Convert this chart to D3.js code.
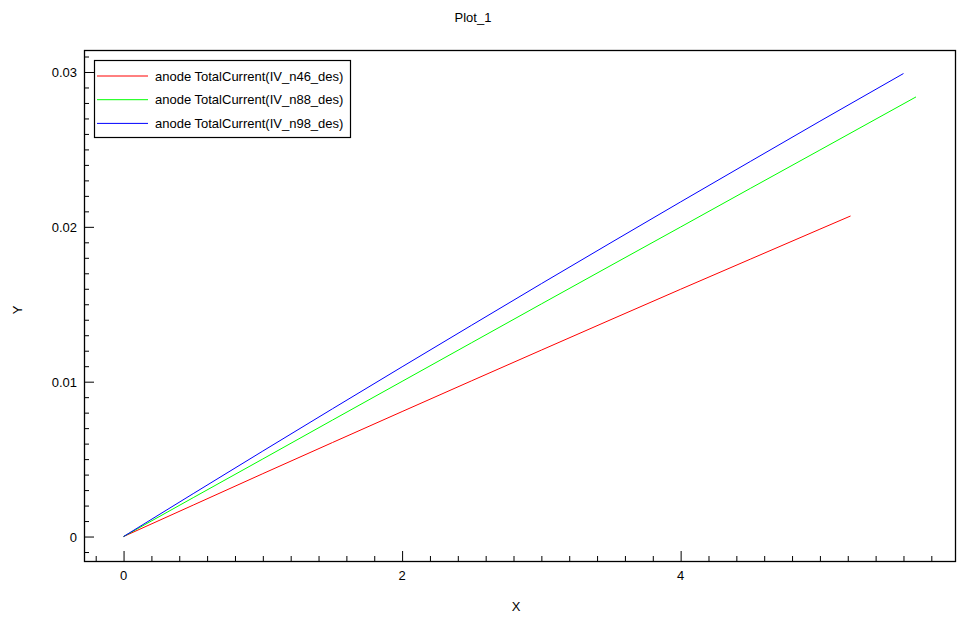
<!DOCTYPE html>
<html>
<head>
<meta charset="utf-8">
<script src="https://cdn.jsdelivr.net/npm/d3@7"></script>
<style>
  html, body { margin: 0; padding: 0; background: #fff; }
  svg { display: block; font-family: "Liberation Sans", Arial, sans-serif; }
</style>
</head>
<body>
<svg id="chart" width="970" height="628"></svg>
<script>
const seriesNames = ["anode TotalCurrent(IV_n46_des)", "anode TotalCurrent(IV_n88_des)", "anode TotalCurrent(IV_n98_des)"];
const seriesColors = ["#ff0000", "#00ff00", "#0000ff"];

const xN46 = [0, 0.5, 1, 1.5, 2, 2.5, 3, 3.5, 4, 4.5, 5, 5.22];
const yN46 = [0, 0.00203, 0.00406, 0.00607, 0.00807, 0.01006, 0.01204, 0.01401, 0.01597, 0.01791, 0.01985, 0.0207];

const xN88 = [0, 0.5, 1, 1.5, 2, 2.5, 3, 3.5, 4, 4.5, 5, 5.69];
const yN88 = [0, 0.00251, 0.00501, 0.00752, 0.01002, 0.01252, 0.01502, 0.01751, 0.01999, 0.02248, 0.02496, 0.02839];

const xN98 = [0, 0.5, 1, 1.5, 2, 2.5, 3, 3.5, 4, 4.5, 5, 5.6];
const yN98 = [0, 0.00277, 0.00552, 0.00825, 0.01096, 0.01365, 0.01633, 0.01898, 0.02161, 0.02422, 0.02682, 0.0299];

const xMajorTicks = [0, 2, 4];
const yMajorTicks = [0, 0.01, 0.02, 0.03];
const xTickLabels = ["0", "2", "4"];
const yTickLabels = ["0", "0.01", "0.02", "0.03"];

const title = "Plot_1";
const xLabel = "X";
const yLabel = "Y";

const series = [
  { name: seriesNames[0], color: seriesColors[0], xs: xN46, ys: yN46 },
  { name: seriesNames[1], color: seriesColors[1], xs: xN88, ys: yN88 },
  { name: seriesNames[2], color: seriesColors[2], xs: xN98, ys: yN98 }
];

const svg = d3.select("#chart");
const L = 84, R = 955, T = 50, B = 561;

const x = d3.scaleLinear().domain([-0.284, 5.97]).range([L, R]);
const y = d3.scaleLinear().domain([-0.00158, 0.03142]).range([B, T]);

// minor ticks
const xMinor = d3.range(-0.2, 5.97, 0.2).filter(v => xMajorTicks.every(m => Math.abs(m - v) > 1e-6));
const yMinor = d3.range(-0.001, 0.0314, 0.001).filter(v => yMajorTicks.every(m => Math.abs(m - v) > 1e-9));

// x axis (ticks inward)
const xAxis = d3.axisTop(x).tickValues(xMajorTicks).tickSize(10).tickFormat("");
svg.append("g").attr("transform", `translate(0,${B})`).call(xAxis)
  .call(g => g.select(".domain").remove())
  .selectAll("line").attr("stroke", "#000");
const xAxisMinor = d3.axisTop(x).tickValues(xMinor).tickSize(5).tickFormat("");
svg.append("g").attr("transform", `translate(0,${B})`).call(xAxisMinor)
  .call(g => g.select(".domain").remove())
  .selectAll("line").attr("stroke", "#000");

const yAxis = d3.axisRight(y).tickValues(yMajorTicks).tickSize(10).tickFormat("");
svg.append("g").attr("transform", `translate(${L},0)`).call(yAxis)
  .call(g => g.select(".domain").remove())
  .selectAll("line").attr("stroke", "#000");
const yAxisMinor = d3.axisRight(y).tickValues(yMinor).tickSize(5).tickFormat("");
svg.append("g").attr("transform", `translate(${L},0)`).call(yAxisMinor)
  .call(g => g.select(".domain").remove())
  .selectAll("line").attr("stroke", "#000");

// tick labels
svg.append("g").selectAll("text").data(xMajorTicks).join("text")
  .attr("x", d => x(d)).attr("y", B + 19)
  .attr("text-anchor", "middle").attr("font-size", 13).attr("fill", "#000")
  .text((d, i) => xTickLabels[i]);
svg.append("g").selectAll("text").data(yMajorTicks).join("text")
  .attr("x", L - 7).attr("y", d => y(d) + 5)
  .attr("text-anchor", "end").attr("font-size", 13).attr("fill", "#000")
  .text((d, i) => yTickLabels[i]);

// frame
svg.append("rect").attr("x", L + 0.5).attr("y", T + 0.5)
  .attr("width", R - L).attr("height", B - T)
  .attr("fill", "none").attr("stroke", "#000").attr("stroke-width", 1.3);

// lines
const clip = svg.append("defs").append("clipPath").attr("id", "clip")
  .append("rect").attr("x", L).attr("y", T).attr("width", R - L).attr("height", B - T);
const line = d3.line().x(d => x(d[0])).y(d => y(d[1]));
svg.append("g").attr("clip-path", "url(#clip)").selectAll("path").data(series).join("path")
  .attr("d", s => line(s.xs.map((v, i) => [v, s.ys[i]])))
  .attr("fill", "none").attr("stroke", s => s.color).attr("stroke-width", 1);

// legend
const lg = svg.append("g");
lg.append("rect").attr("x", 94.5).attr("y", 60.5).attr("width", 256).attr("height", 77)
  .attr("fill", "#fff").attr("stroke", "#000").attr("stroke-width", 1.2);
series.forEach((s, i) => {
  const ly = 76 + i * 23.7;
  lg.append("line").attr("x1", 97).attr("x2", 148).attr("y1", ly).attr("y2", ly)
    .attr("stroke", s.color).attr("stroke-width", 1);
  lg.append("text").attr("x", 155).attr("y", ly + 4.5).attr("font-size", 13).attr("fill", "#000")
    .text(s.name);
});

// title and axis labels
svg.append("text").attr("x", 473).attr("y", 22).attr("text-anchor", "middle")
  .attr("font-size", 13).attr("fill", "#000").text(title);
svg.append("text").attr("x", 516).attr("y", 611).attr("text-anchor", "middle")
  .attr("font-size", 13).attr("fill", "#000").text(xLabel);
svg.append("text").attr("transform", "translate(22,310) rotate(-90)").attr("text-anchor", "middle")
  .attr("font-size", 13).attr("fill", "#000").text(yLabel);
</script>
</body>
</html>
